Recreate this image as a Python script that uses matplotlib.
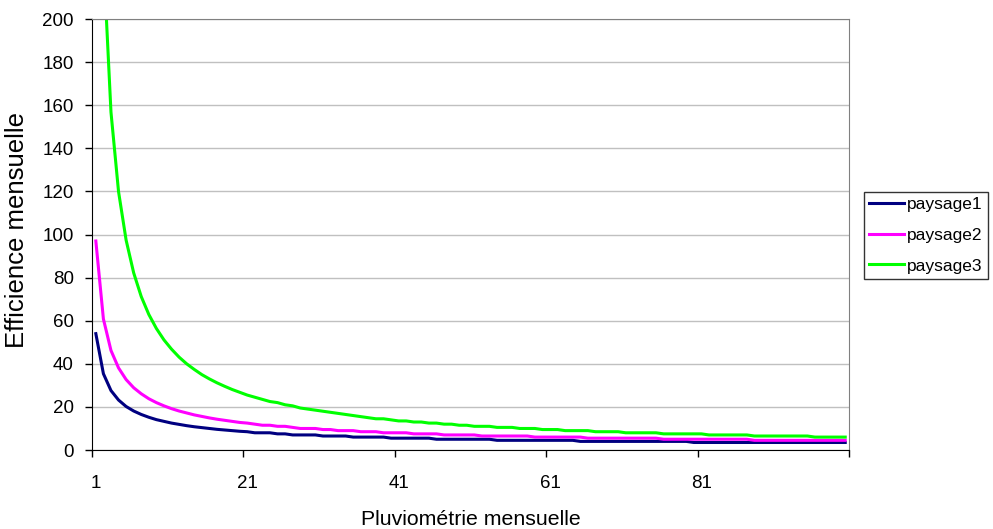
import matplotlib
matplotlib.use('Agg')
import matplotlib.pyplot as plt

plt.rcParams['font.family'] = ['Liberation Sans', 'DejaVu Sans']

# Pluviométrie mensuelle (categories 1..100)
pluvio = list(range(1, 101))

paysage1 = [54, 35.4, 27.6, 23.2, 20.2, 18.1, 16.5, 15.2, 14.1, 13.3,
            12.5, 11.9, 11.3, 10.8, 10.4, 10.0, 9.6, 9.3, 9.0, 8.7,
            8.5, 8.0, 8.0, 8.0, 7.5, 7.5, 7.0, 7.0, 7.0, 7.0,
            6.5, 6.5, 6.5, 6.5, 6.0, 6.0, 6.0, 6.0, 6.0, 5.5,
            5.5, 5.5, 5.5, 5.5, 5.5, 5.0, 5.0, 5.0, 5.0, 5.0,
            5.0, 5.0, 5.0, 4.5, 4.5, 4.5, 4.5, 4.5, 4.5, 4.5,
            4.5, 4.5, 4.5, 4.5, 4.0, 4.0, 4.0, 4.0, 4.0, 4.0,
            4.0, 4.0, 4.0, 4.0, 4.0, 4.0, 4.0, 4.0, 4.0, 3.5,
            3.5, 3.5, 3.5, 3.5, 3.5, 3.5, 3.5, 3.5, 3.5, 3.5,
            3.5, 3.5, 3.5, 3.5, 3.5, 3.5, 3.5, 3.5, 3.5, 3.5]

paysage2 = [97, 60.8, 46.2, 38.1, 32.7, 28.9, 26.1, 23.8, 22.0, 20.5,
            19.2, 18.1, 17.2, 16.3, 15.6, 14.9, 14.3, 13.8, 13.3, 12.8,
            12.5, 12.0, 11.5, 11.5, 11.0, 11.0, 10.5, 10.0, 10.0, 10.0,
            9.5, 9.5, 9.0, 9.0, 9.0, 8.5, 8.5, 8.5, 8.0, 8.0,
            8.0, 8.0, 7.5, 7.5, 7.5, 7.5, 7.0, 7.0, 7.0, 7.0,
            7.0, 6.5, 6.5, 6.5, 6.5, 6.5, 6.5, 6.5, 6.0, 6.0,
            6.0, 6.0, 6.0, 6.0, 6.0, 5.5, 5.5, 5.5, 5.5, 5.5,
            5.5, 5.5, 5.5, 5.5, 5.5, 5.0, 5.0, 5.0, 5.0, 5.0,
            5.0, 5.0, 5.0, 5.0, 5.0, 5.0, 5.0, 4.5, 4.5, 4.5,
            4.5, 4.5, 4.5, 4.5, 4.5, 4.5, 4.5, 4.5, 4.5, 4.5]

paysage3 = [436, 228.7, 156.8, 119.9, 97.4, 82.2, 71.2, 62.9, 56.4, 51.1,
            46.8, 43.1, 40.0, 37.4, 35.0, 33.0, 31.2, 29.6, 28.1, 26.8,
            25.5, 24.5, 23.5, 22.5, 22.0, 21.0, 20.5, 19.5, 19.0, 18.5,
            18.0, 17.5, 17.0, 16.5, 16.0, 15.5, 15.0, 14.5, 14.5, 14.0,
            13.5, 13.5, 13.0, 13.0, 12.5, 12.5, 12.0, 12.0, 11.5, 11.5,
            11.0, 11.0, 11.0, 10.5, 10.5, 10.5, 10.0, 10.0, 10.0, 9.5,
            9.5, 9.5, 9.0, 9.0, 9.0, 9.0, 8.5, 8.5, 8.5, 8.5,
            8.0, 8.0, 8.0, 8.0, 8.0, 7.5, 7.5, 7.5, 7.5, 7.5,
            7.5, 7.0, 7.0, 7.0, 7.0, 7.0, 7.0, 6.5, 6.5, 6.5,
            6.5, 6.5, 6.5, 6.5, 6.5, 6.0, 6.0, 6.0, 6.0, 6.0]

x_labels = ['1', '21', '41', '61', '81']

fig = plt.figure(figsize=(9.93, 5.29), dpi=100)
ax = fig.add_axes([0.0927, 0.1493, 0.7623, 0.8147])

ax.plot(pluvio, paysage1, color='#000080', lw=2.2, label='paysage1')
ax.plot(pluvio, paysage2, color='#FF00FF', lw=2.2, label='paysage2')
ax.plot(pluvio, paysage3, color='#00FF00', lw=2.2, label='paysage3')

ax.set_xlim(0.5, 100.5)
ax.set_ylim(0, 200)
ax.set_yticks(range(0, 201, 20))
ax.yaxis.grid(True, color='#c0c0c0', lw=1)
ax.set_axisbelow(True)

# ticks between categories, labels on categories
ax.set_xticks([0.5, 20.5, 40.5, 60.5, 80.5, 100.5])
ax.set_xticklabels([])
ax.set_xticks([1, 21, 41, 61, 81], minor=True)
ax.set_xticklabels(x_labels, minor=True)
ax.tick_params(axis='x', which='major', direction='out', length=5, width=1)
ax.tick_params(axis='x', which='minor', length=0, pad=18, labelsize=13.5)
ax.tick_params(axis='y', direction='out', length=5, width=1, pad=8, labelsize=13.5)

for side in ['top', 'right']:
    ax.spines[side].set_color('#808080')
for side in ['left', 'bottom']:
    ax.spines[side].set_color('black')

ax.set_xlabel('Pluviométrie mensuelle', fontsize=15.3, labelpad=13)
ax.set_ylabel('Efficience mensuelle', fontsize=18.5)
ax.yaxis.set_label_coords(-0.0832, 0.51)

fig.legend(loc='upper left', bbox_to_anchor=(864 / 993, 1 - 192 / 529),
           frameon=True, fancybox=False, edgecolor='black', fontsize=12.5,
           handlelength=2.0, handletextpad=0.2, borderpad=0.3,
           labelspacing=0.89, borderaxespad=0)

fig.savefig('out.png', dpi=100)
